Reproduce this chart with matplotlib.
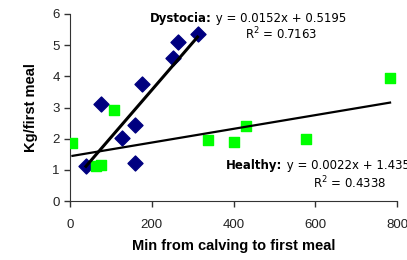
import numpy as np
import matplotlib.pyplot as plt

plt.rcParams["font.family"] = ["Liberation Sans", "DejaVu Sans"]

# dystocia cows
dys_x = [39, 77, 126, 159, 159, 177, 253, 265, 312]
dys_y = [1.12, 3.10, 2.03, 2.43, 1.23, 3.75, 4.60, 5.10, 5.37]
dys_fit = (0.0152, 0.5195)

# healthy cows
hea_x = [6, 64, 75, 108, 337, 400, 430, 577, 783]
hea_y = [1.85, 1.13, 1.16, 2.92, 1.96, 1.88, 2.40, 2.00, 3.94]
hea_fit = (0.0022, 1.435)

x_ticks = [0, 200, 400, 600, 800]
y_ticks = [0, 1, 2, 3, 4, 5, 6]

fig = plt.figure(figsize=(4.07, 2.6), dpi=100)
ax = fig.add_axes([70 / 407, 59 / 260, 327 / 407, 187 / 260])

ax.scatter(dys_x, dys_y, marker="D", s=58, color="#000080", zorder=3)
ax.scatter(hea_x, hea_y, marker="s", s=42, color="#00ff00", zorder=3)

# trend lines
xd = np.array([min(dys_x), max(dys_x)])
ax.plot(xd, dys_fit[0] * xd + dys_fit[1], color="black", lw=2.2, zorder=4)
xh = np.array([min(hea_x), max(hea_x)])
ax.plot(xh, hea_fit[0] * xh + hea_fit[1], color="black", lw=1.6, zorder=4)

ax.set_xlim(0, 800)
ax.set_ylim(0, 6)
ax.set_xticks(x_ticks)
ax.set_yticks(y_ticks)
ax.tick_params(labelsize=9.5, length=4, width=1, color="#333333", labelcolor="#222222")
ax.tick_params(axis="x", pad=9)
for s in ["top", "right"]:
    ax.spines[s].set_visible(False)
for s in ["left", "bottom"]:
    ax.spines[s].set_color("#333333")

ax.set_xlabel("Min from calving to first meal", fontsize=10.5, fontweight="bold", labelpad=6)
ax.set_ylabel("Kg/first meal", fontsize=10.5, fontweight="bold", labelpad=10)

eq_font = ["DejaVu Sans"]


def eq_label(x, y, name, eq, r2, r2x, r2y):
    t = ax.text(x, y, name, fontsize=8.5, fontweight="bold", va="baseline", ha="left",
                family=eq_font)
    ax.annotate(" " + eq, xy=(1, 0), xycoords=t, va="bottom", ha="left", fontsize=8.5,
                family=eq_font, annotation_clip=False)
    ax.text(r2x, r2y, r"R$^2$ = " + r2, fontsize=8.5, va="baseline", ha="left",
            family=eq_font)


eq_label(196, 5.74, "Dystocia:", "y = 0.0152x + 0.5195", "0.7163", 428, 5.19)
eq_label(382, 1.02, "Healthy:", "y = 0.0022x + 1.435", "0.4338", 594, 0.42)

fig.savefig("out.png", dpi=100)
